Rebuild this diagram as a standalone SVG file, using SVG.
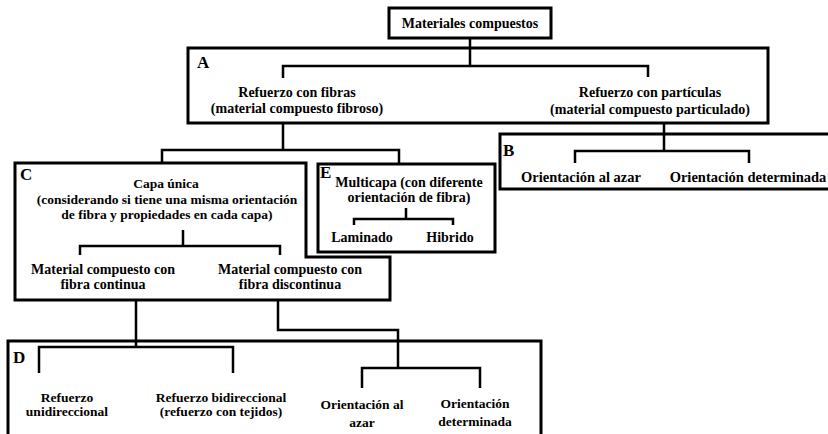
<svg xmlns="http://www.w3.org/2000/svg" width="828" height="434" viewBox="0 0 828 434">
<style>
.box{fill:none;stroke:#000;stroke-width:3}
.con{fill:none;stroke:#000;stroke-width:2.5}
text{font-family:"Liberation Serif","Times New Roman",serif;font-weight:bold;font-size:14px;fill:#000;text-anchor:middle}
.s{font-size:13.5px}
.b{font-size:14.5px}
.lab{font-size:17px;text-anchor:start}
</style>
<rect width="828" height="434" fill="#fff"/>
<g id="connectors">
<path class="con" d="M470,38V66M283,78V66H648V77"/>
<path class="con" d="M283,123V150M162,163V150H399V164"/>
<path class="con" d="M664,123V151M575,163V151H749V163"/>
<path class="con" d="M183,230V246M80,255V246H280V255"/>
<path class="con" d="M406,208V219M354,225V219H453V225"/>
<path class="con" d="M136,300V347M39,373V347H233V373"/>
<path class="con" d="M278,300V330H398V368M362,388V368H480V388"/>
</g>
<g id="root">
<rect class="box" x="389" y="8" width="162" height="30"/>
<text x="470" y="28">Materiales compuestos</text>
</g>
<g id="A">
<rect class="box" x="188" y="48" width="580" height="75"/>
<text class="lab" x="197" y="68">A</text>
</g>
<g id="fibras">
<text x="297" y="97">Refuerzo con fibras</text>
<text x="297" y="113">(material compuesto fibroso)</text>
</g>
<g id="particulas">
<text x="650" y="97">Refuerzo con partículas</text>
<text x="650" y="114">(material compuesto particulado)</text>
</g>
<g id="B">
<path class="box" d="M832,134H500V189H832"/>
<text class="lab" x="503" y="156">B</text>
</g>
<g id="b-azar"><text class="b" x="581" y="182">Orientación al azar</text></g>
<g id="b-det"><text class="b" x="748" y="182">Orientación determinada</text></g>
<g id="C">
<path class="box" d="M15,163H306V257H390V300H15Z"/>
<text class="lab" x="20" y="180">C</text>
</g>
<g id="capa-unica">
<text class="s" x="166" y="188">Capa única</text>
<text class="s" x="167" y="204">(considerando si tiene una misma orientación</text>
<text class="s" x="167" y="219">de fibra y propiedades en cada capa)</text>
</g>
<g id="continua">
<text x="103" y="274">Material compuesto con</text>
<text x="103" y="289">fibra continua</text>
</g>
<g id="discontinua">
<text x="290" y="274">Material compuesto con</text>
<text x="290" y="289">fibra discontinua</text>
</g>
<g id="E">
<rect class="box" x="318" y="164" width="177" height="88"/>
<text class="lab" x="320" y="178">E</text>
</g>
<g id="multicapa">
<text x="409" y="187">Multicapa (con diferente</text>
<text x="409" y="202">orientación de fibra)</text>
</g>
<g id="laminado"><text x="362" y="242">Laminado</text></g>
<g id="hibrido"><text x="450" y="242">Hibrido</text></g>
<g id="D">
<path class="box" d="M8,440V341H541V440"/>
<text class="lab" x="13" y="363">D</text>
</g>
<g id="unidir">
<text class="s" x="67" y="402">Refuerzo</text>
<text class="s" x="67" y="416">unidireccional</text>
</g>
<g id="bidir">
<text class="s" x="221" y="402">Refuerzo bidireccional</text>
<text class="s" x="221" y="416">(refuerzo con tejidos)</text>
</g>
<g id="d-azar">
<text class="s" x="362" y="409">Orientación al</text>
<text class="s" x="362" y="427">azar</text>
</g>
<g id="d-det">
<text class="s" x="475" y="408">Orientación</text>
<text class="s" x="475" y="426">determinada</text>
</g>
</svg>
